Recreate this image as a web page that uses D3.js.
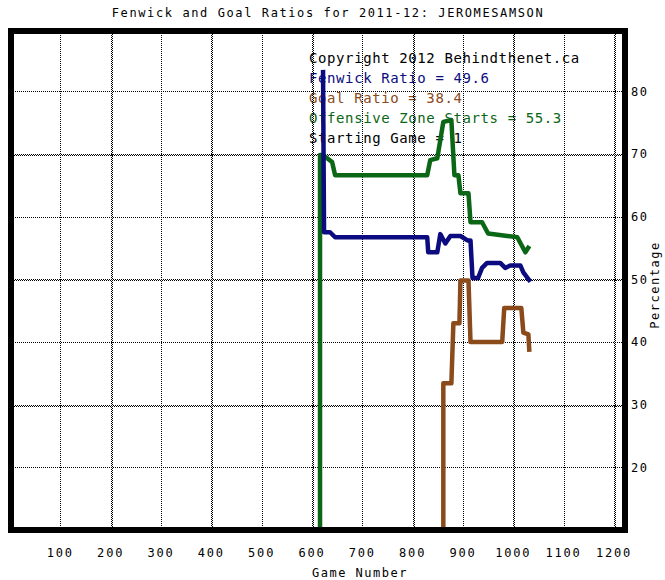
<!DOCTYPE html>
<html>
<head>
<meta charset="utf-8">
<script src="https://cdn.jsdelivr.net/npm/d3@7"></script>
<style>
  html, body { margin: 0; padding: 0; background: #fff; }
  svg { display: block; }
  text { font-family: "DejaVu Sans Mono", monospace; }
</style>
</head>
<body>
<svg id="chart" width="665" height="580"></svg>
<script>
// ---- data ----
const chartTitle = "Fenwick and Goal Ratios for 2011-12: JEROMESAMSON";
const xLabel = "Game Number";
const yLabel = "Percentage";
const xTicks = [100, 200, 300, 400, 500, 600, 700, 800, 900, 1000, 1100, 1200];
const yTicks = [20, 30, 40, 50, 60, 70, 80];

const fenwickGames  = [622, 624, 636, 646, 829, 831, 849, 855, 865, 875, 895, 909, 915, 919, 930, 938, 948, 974, 984, 994, 1014, 1020, 1034];
const fenwickValues = [83.4, 57.5, 57.5, 56.7, 56.7, 54.3, 54.3, 57.2, 55.7, 56.9, 56.9, 56.2, 56.2, 50.2, 50.2, 51.8, 52.6, 52.6, 51.8, 52.2, 52.2, 51.1, 49.6];

const goalGames  = [861, 861, 877, 881, 893, 895, 911, 915, 978, 982, 1016, 1020, 1030, 1032];
const goalValues = [0, 33.4, 33.4, 43.0, 43.0, 49.8, 49.8, 40.0, 40.0, 45.4, 45.4, 41.5, 41.2, 38.4];

const ozGames  = [616, 616, 622, 640, 646, 829, 835, 849, 861, 877, 883, 891, 895, 911, 915, 938, 950, 988, 1008, 1024, 1032];
const ozValues = [0, 69.8, 69.8, 68.7, 66.6, 66.6, 69.0, 69.3, 75.1, 75.4, 66.6, 66.6, 63.7, 63.7, 59.1, 59.1, 57.3, 56.9, 56.7, 54.3, 55.3];

const legendLines = [
  "Copyright 2012 Behindthenet.ca",
  "Fenwick Ratio = 49.6",
  "Goal Ratio = 38.4",
  "Offensive Zone Starts = 55.3",
  "Starting Game = 1"
];

// ---- styles ----
const colors = { fenwick: "#0c0c80", goal: "#8b4a1a", oz: "#0b6616", text: "#000" };
const legendColors = [colors.text, colors.fenwick, colors.goal, colors.oz, colors.text];

const svg = d3.select("#chart");
const plot = { left: 11, right: 625, top: 31, bottom: 530 };

const x = d3.scaleLinear().domain([0, 1220]).range([10, 624]);
const y = d3.scaleLinear().domain([10, 89.6]).range([plot.bottom, plot.top]);

// Title
svg.append("text")
  .attr("x", 328).attr("y", 17)
  .attr("text-anchor", "middle")
  .attr("font-size", 12).attr("letter-spacing", 1.6)
  .text(chartTitle);

// Legend text (drawn under grid and lines)
svg.append("g").selectAll("text").data(legendLines).join("text")
  .attr("x", 309)
  .attr("y", (d, i) => 63 + i * 20)
  .attr("font-size", 14).attr("letter-spacing", 0.6)
  .attr("fill", (d, i) => legendColors[i])
  .text(d => d);

// Grid
const grid = svg.append("g");
xTicks.forEach((t, i) => {
  const px = Math.round(x(t)) + 0.5;
  const zig = (i % 2 === 1);
  const offs = zig ? [0, 1] : [0];
  offs.forEach((o, k) => {
    grid.append("line")
      .attr("x1", px + o).attr("x2", px + o)
      .attr("y1", plot.top).attr("y2", plot.bottom)
      .attr("stroke", "#000").attr("stroke-width", 1)
      .attr("stroke-dasharray", "1,1")
      .attr("stroke-dashoffset", k);
  });
});
yTicks.forEach((t, i) => {
  const py = Math.round(y(t)) + 0.5;
  const zig = (i % 2 === 1);
  const offs = zig ? [0, 1] : [0];
  offs.forEach((o, k) => {
    grid.append("line")
      .attr("x1", plot.left).attr("x2", plot.right)
      .attr("y1", py + o).attr("y2", py + o)
      .attr("stroke", "#000").attr("stroke-width", 1)
      .attr("stroke-dasharray", "1,1")
      .attr("stroke-dashoffset", k);
  });
});

// Clip
svg.append("clipPath").attr("id", "clip")
  .append("rect")
  .attr("x", plot.left).attr("y", plot.top)
  .attr("width", plot.right - plot.left).attr("height", plot.bottom - plot.top);

const line = d3.line().x(d => x(d[0])).y(d => y(d[1]));
const series = [
  { games: ozGames, values: ozValues, color: colors.oz },
  { games: fenwickGames, values: fenwickValues, color: colors.fenwick },
  { games: goalGames, values: goalValues, color: colors.goal }
];
const lines = svg.append("g").attr("clip-path", "url(#clip)");
series.forEach(s => {
  lines.append("path")
    .datum(d3.zip(s.games, s.values))
    .attr("d", line)
    .attr("fill", "none")
    .attr("stroke", s.color)
    .attr("stroke-width", 4.5)
    .attr("stroke-linejoin", "round")
    .attr("stroke-linecap", "butt");
});

// Frame
svg.append("rect")
  .attr("x", plot.left).attr("y", plot.top)
  .attr("width", plot.right - plot.left).attr("height", plot.bottom - plot.top)
  .attr("fill", "none").attr("stroke", "#000").attr("stroke-width", 6);

// X tick labels
svg.append("g").selectAll("text").data(xTicks).join("text")
  .attr("x", d => x(d))
  .attr("y", 557)
  .attr("text-anchor", "middle")
  .attr("font-size", 12).attr("letter-spacing", 1.8)
  .text(d => d);

// Y tick labels (right side)
svg.append("g").selectAll("text").data(yTicks).join("text")
  .attr("x", 631)
  .attr("y", d => y(d) + 4.5)
  .attr("font-size", 12).attr("letter-spacing", 1.6)
  .text(d => d);

// Axis titles
svg.append("text")
  .attr("x", 360).attr("y", 577)
  .attr("text-anchor", "middle")
  .attr("font-size", 12).attr("letter-spacing", 1.5)
  .text(xLabel);

svg.append("text")
  .attr("transform", "translate(659,285) rotate(-90)")
  .attr("text-anchor", "middle")
  .attr("font-size", 12).attr("letter-spacing", 1.5)
  .text(yLabel);
</script>
</body>
</html>
